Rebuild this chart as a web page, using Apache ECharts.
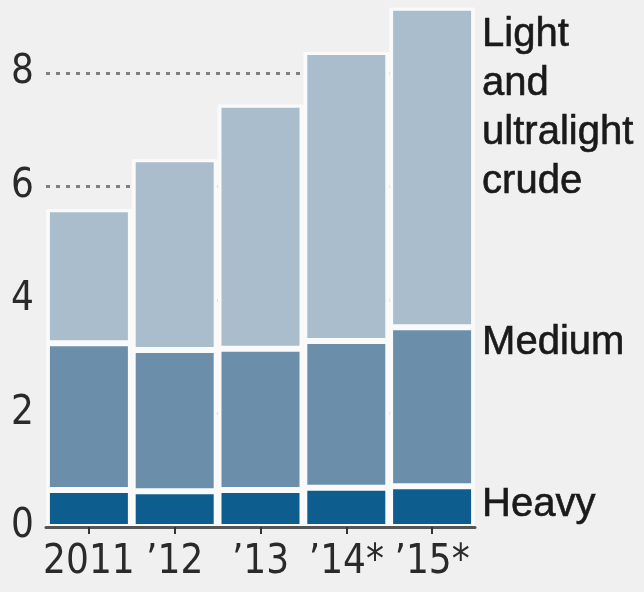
<!DOCTYPE html>
<html>
<head>
<meta charset="utf-8">
<script src="https://cdn.jsdelivr.net/npm/echarts@6/dist/echarts.min.js"></script>
<style>
html,body{margin:0;padding:0;background:#f0f0f0;}
#chart{width:644px;height:592px;}
</style>
</head>
<body>
<div id="chart"></div>
<script>
var categories = ['2011', '\u201912', '\u201913', '\u201914*', '\u201915*'];
var heavy  = [0.65, 0.63, 0.65, 0.69, 0.72];
var medium = [2.59, 2.49, 2.49, 2.59, 2.80];
var light  = [2.36, 3.36, 4.30, 5.09, 5.63];
var seriesNames = ['Heavy', 'Medium', 'Light\nand\nultralight\ncrude'];
var yTicks = [0, 2, 4, 6, 8];

var colors = ['#0d5e8e', '#6b8fab', '#aabdcc'];
var labelOffsets = [[8, -6], [8, -9], [8, 3]];
var axisFont = "'Liberation Sans Narrow', 'DejaVu Sans Condensed', 'Roboto Condensed', 'Liberation Sans', sans-serif";

var totals = heavy.map(function (v, i) { return v + medium[i] + light[i]; });

function buildData(arr, si) {
  return arr.map(function (v, i) {
    if (i === arr.length - 1) {
      return {
        value: v,
        label: {
          show: true,
          position: ['100%', 0],
          offset: labelOffsets[si],
          align: 'left',
          verticalAlign: 'top',
          formatter: seriesNames[si],
          fontFamily: 'Liberation Sans',
          fontSize: 40,
          lineHeight: 49,
          color: '#1a1a1a',
          textBorderColor: '#1a1a1a',
          textBorderWidth: 0.6
        }
      };
    }
    return v;
  });
}

var chart = echarts.init(document.getElementById('chart'), null, {renderer: 'canvas'});

var series = [{
  name: 'halo',
  type: 'bar',
  xAxisIndex: 1,
  barWidth: '100%',
  data: totals,
  itemStyle: {color: '#fafafa'},
  z: 1,
  silent: true,
  emphasis: {disabled: true}
}];

[heavy, medium, light].forEach(function (arr, si) {
  series.push({
    name: seriesNames[si],
    type: 'bar',
    stack: 'total',
    xAxisIndex: 0,
    barWidth: 84,
    data: buildData(arr, si),
    itemStyle: {color: colors[si], borderColor: '#fafafa', borderWidth: 3},
    z: 2,
    emphasis: {disabled: true}
  });
});

var gridColors = ['#808080', '#808080', '#808080', '#808080', '#808080', 'rgba(0,0,0,0)'];

chart.setOption({
  backgroundColor: '#f0f0f0',
  animation: false,
  grid: {left: 46, right: 169, top: 5, bottom: 65, containLabel: false},
  xAxis: [{
    type: 'category',
    data: categories,
    z: 5,
    axisLine: {show: true, lineStyle: {color: '#555', width: 3}},
    axisTick: {show: true, alignWithLabel: true, length: 7, lineStyle: {color: '#333', width: 2}},
    axisLabel: {fontFamily: axisFont, fontSize: 40, color: '#2a2a2a', margin: 16, interval: 0}
  }, {
    type: 'category',
    data: categories,
    show: false
  }],
  yAxis: {
    type: 'value',
    min: 0,
    max: 9.2,
    interval: 2,
    axisLine: {show: false},
    axisTick: {show: false},
    axisLabel: {
      fontFamily: axisFont, fontSize: 40, color: '#2a2a2a', margin: 12,
      formatter: function (v) { return yTicks.indexOf(v) >= 0 ? String(v) : ''; }
    },
    splitLine: {show: true, lineStyle: {color: gridColors, width: 3, type: [4, 6]}}
  },
  series: series
});
</script>
</body>
</html>
